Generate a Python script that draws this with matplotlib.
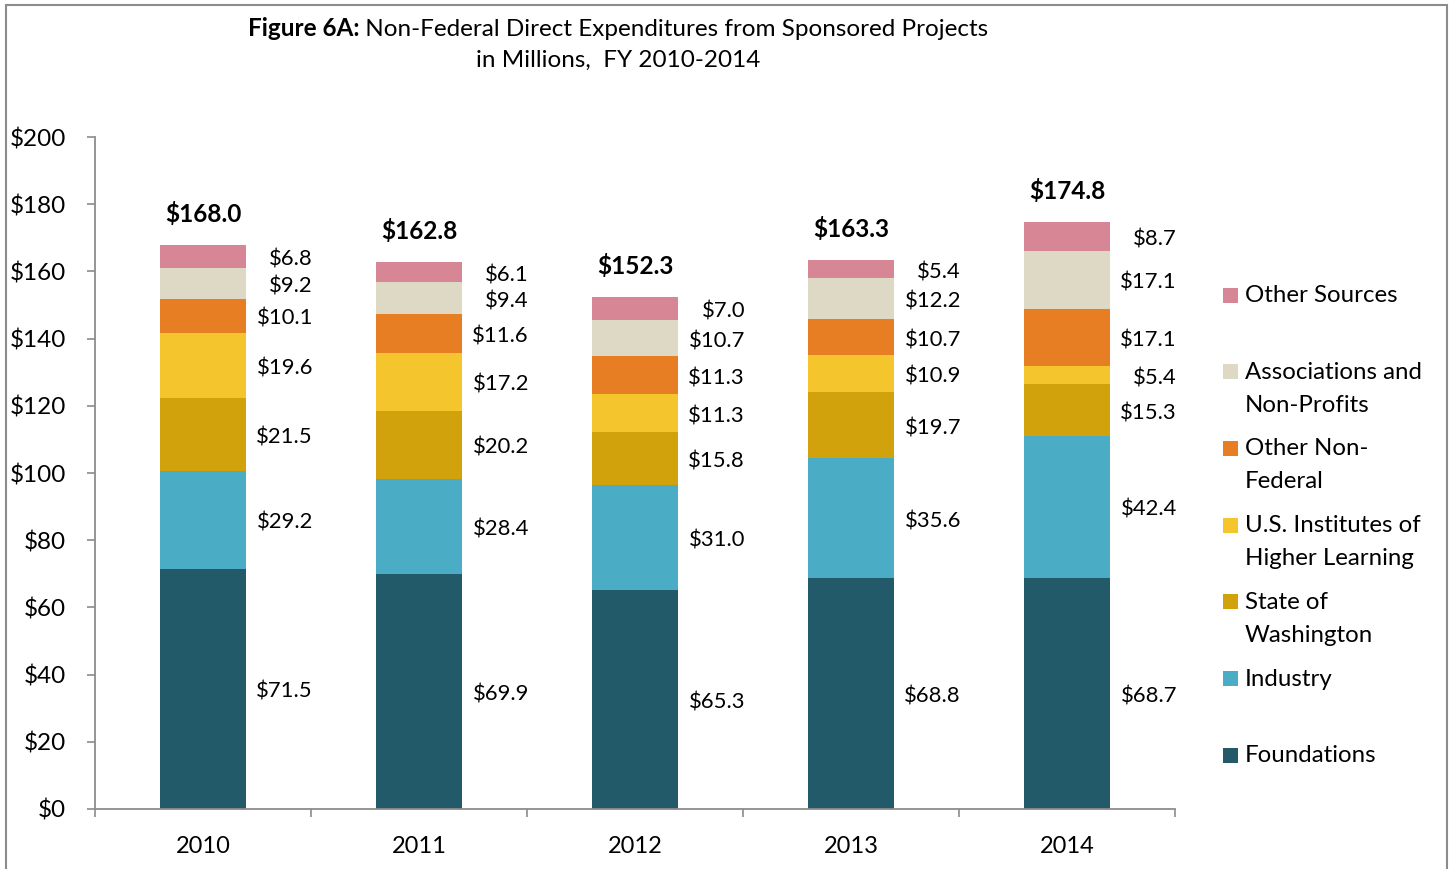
import matplotlib
matplotlib.use("Agg")
import matplotlib.pyplot as plt
from matplotlib.patches import Rectangle
import numpy as np

plt.rcParams['font.family'] = ['Lato', 'DejaVu Sans']

years = ["2010", "2011", "2012", "2013", "2014"]
series_names = ["Foundations", "Industry", "State of\nWashington",
                "U.S. Institutes of\nHigher Learning", "Other Non-\nFederal",
                "Associations and\nNon-Profits", "Other Sources"]
foundations = [71.5, 69.9, 65.3, 68.8, 68.7]
industry = [29.2, 28.4, 31.0, 35.6, 42.4]
state_wa = [21.5, 20.2, 15.8, 19.7, 15.3]
us_institutes = [19.6, 17.2, 11.3, 10.9, 5.4]
other_nonfed = [10.1, 11.6, 11.3, 10.7, 17.1]
associations = [9.2, 9.4, 10.7, 12.2, 17.1]
other_sources = [6.8, 6.1, 7.0, 5.4, 8.7]
totals = [168.0, 162.8, 152.3, 163.3, 174.8]
yticks = [0, 20, 40, 60, 80, 100, 120, 140, 160, 180, 200]

series = [foundations, industry, state_wa, us_institutes, other_nonfed,
          associations, other_sources]
colors = ["#235A69", "#4BACC6", "#D1A20B", "#F5C52D", "#E77E23",
          "#DDD9C4", "#D78696"]

W, H = 1452, 869
fig = plt.figure(figsize=(W / 100, H / 100), dpi=100)
ax = fig.add_axes([95 / W, 1 - 809 / H, (1175 - 95) / W, (809 - 137) / H])

x = np.arange(len(years))
bw = 0.40
bottom = np.zeros(len(years))
for vals, col in zip(series, colors):
    v = np.array(vals)
    ax.bar(x, v, bw, bottom=bottom, color=col, edgecolor='none', zorder=2)
    for xi, b, val in zip(x, bottom, v):
        ax.annotate(f"${val:.1f}", (xi + 0.50, b + val / 2), xytext=(2, -3),
                    textcoords='offset pixels', ha='right', va='center',
                    fontsize=15.8, color='black')
    bottom += v

for xi, t in zip(x, totals):
    ax.annotate(f"${t:.1f}", (xi, t), xytext=(0, 31), textcoords='offset pixels',
                ha='center', va='center', fontsize=17.6, fontweight='bold')

ax.set_xlim(-0.5, len(years) - 0.5)
ax.set_ylim(0, 200)
ax.set_yticks(yticks)
ax.set_yticklabels([f"${v}" for v in yticks])
ax.set_xticks(x)
ax.set_xticklabels(years)
ax.set_xticks(np.arange(-0.5, len(years)), minor=True)
ax.tick_params(axis='x', which='major', length=0, pad=19.5, labelsize=17)
ax.tick_params(axis='x', which='minor', length=6, width=1.2, color='#8C8C8C', direction='out')
ax.tick_params(axis='y', which='major', length=6, width=1.2, color='#8C8C8C',
               direction='out', pad=15, labelsize=17.5)
for s in ['top', 'right']:
    ax.spines[s].set_visible(False)
for s in ['left', 'bottom']:
    ax.spines[s].set_color('#8C8C8C')
    ax.spines[s].set_linewidth(1.3)

# Legend (manual, order top to bottom)
leg_y0 = 295
leg_step = 76.7
for k, i in enumerate(range(len(series) - 1, -1, -1)):
    yc = leg_y0 + k * leg_step
    fig.patches.append(Rectangle((1223 / W, 1 - (yc + 7.5) / H), 15 / W, 15 / H,
                                 transform=fig.transFigure, facecolor=colors[i],
                                 edgecolor='none'))
    fig.text(1245 / W, 1 - (yc - 10) / H, series_names[i], ha='left', va='top',
             fontsize=17.3, linespacing=1.7)

# Title
fig.canvas.draw()
r = fig.canvas.get_renderer()
t1 = fig.text(0, 1 - 29 / H, "Figure 6A:", fontweight='bold', fontsize=17.5, va='center')
t2 = fig.text(0, 1 - 29 / H, " Non-Federal Direct Expenditures from Sponsored Projects",
              fontsize=17.5, va='center')
w1 = t1.get_window_extent(r).width
w2 = t2.get_window_extent(r).width
cx = 618
start = cx - (w1 + w2) / 2
t1.set_x(start / W)
t2.set_x((start + w1) / W)
fig.text(cx / W, 1 - 60 / H, "in Millions,  FY 2010-2014", ha='center', va='center',
         fontsize=17.5)

# figure frame
fig.patches.append(Rectangle((6 / W, -0.01), (1447 - 6) / W, 1.01 - 5 / H,
                             transform=fig.transFigure, facecolor='none',
                             edgecolor='#8C8C8C', linewidth=1.5))

fig.savefig("out.png", dpi=100)
